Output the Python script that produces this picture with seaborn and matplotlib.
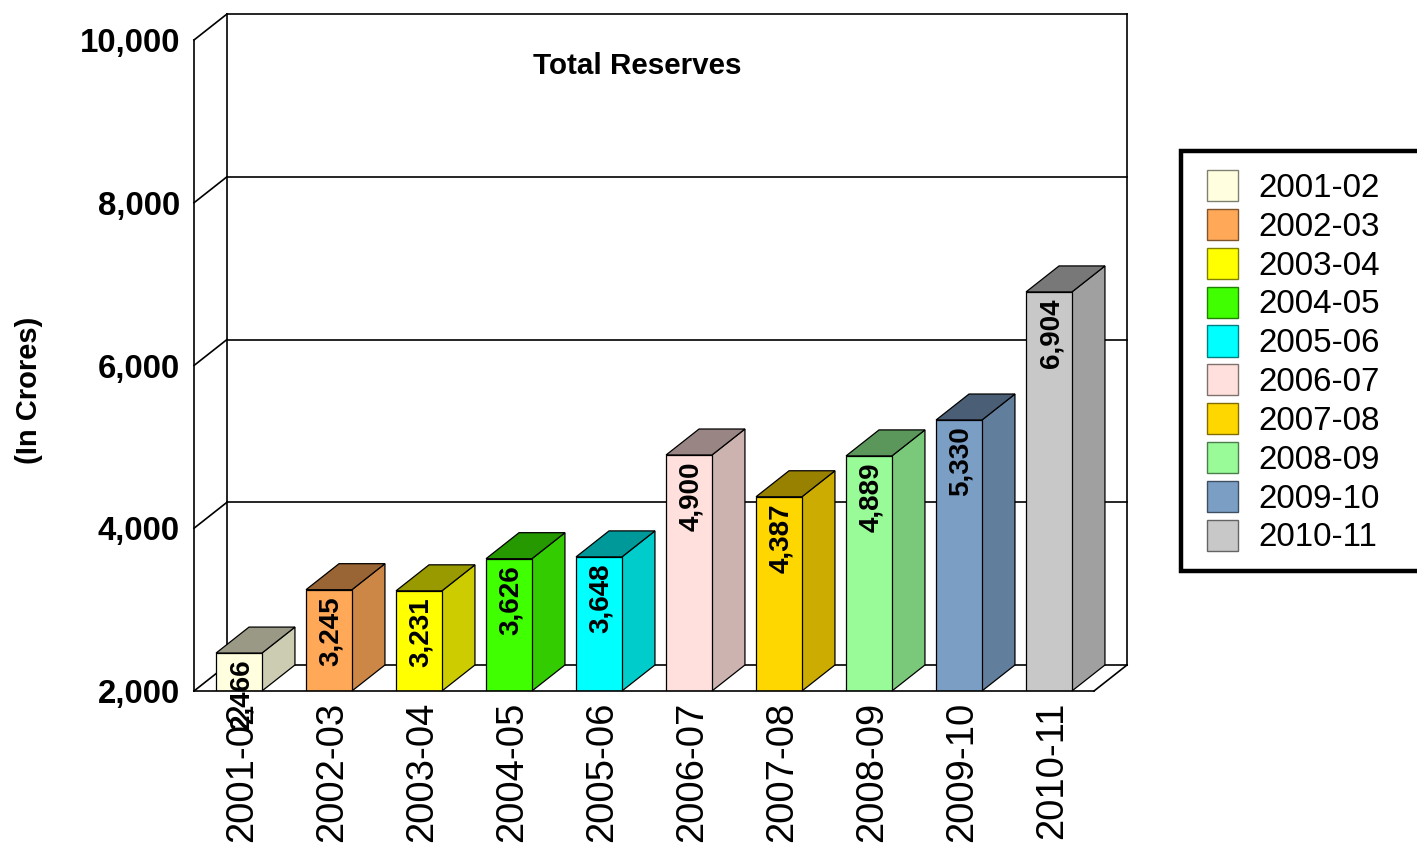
import matplotlib
matplotlib.use('Agg')
import matplotlib.pyplot as plt
from matplotlib.colors import to_rgb
from matplotlib.patches import Patch, Polygon, Rectangle
from matplotlib.transforms import ScaledTranslation
import pandas as pd
import seaborn as sns

years = ['2001-02', '2002-03', '2003-04', '2004-05', '2005-06',
         '2006-07', '2007-08', '2008-09', '2009-10', '2010-11']
reserves = [2466, 3245, 3231, 3626, 3648, 4900, 4387, 4889, 5330, 6904]
colors = ['#FFFFE0', '#FFA858', '#FFFF00', '#3FFF00', '#00FFFF',
          '#FFE0DC', '#FFD700', '#98FB98', '#7B9EC4', '#C8C8C8']
y_ticks = [2000, 4000, 6000, 8000, 10000]

W, H = 1417, 843
sns.set_theme(style='white')
plt.rcParams['font.family'] = ['Liberation Sans', 'DejaVu Sans']

fig = plt.figure(figsize=(W / 100, H / 100), dpi=100)
# front plane of the fake 3d box, in pixels
left, right, bottom, top = 194, 1094, 691, 40
ax = fig.add_axes([left / W, 1 - bottom / H, (right - left) / W, (bottom - top) / H])

df = pd.DataFrame({'year': years, 'reserves': reserves})
sns.barplot(data=df, x='year', y='reserves', hue='year', palette=colors, legend=False,
            width=0.51, edgecolor='black', linewidth=0.9, saturation=1, ax=ax, zorder=4)
ax.set_xlim(-0.5, 9.5)
ax.set_ylim(y_ticks[0], y_ticks[-1])

# depth of the box, px converted to data units
depth_x = 33 / ((right - left) / 10)
depth_y = 26 / ((bottom - top) / (y_ticks[-1] - y_ticks[0]))


def shade(c, k):
    return tuple(v * k for v in to_rgb(c))


# walls
x0, x1 = ax.get_xlim()
wall = dict(color='black', lw=1.2, clip_on=False, zorder=1, solid_capstyle='projecting')
for t in y_ticks:
    ax.plot([x0, x0 + depth_x], [t, t + depth_y], **wall)
    ax.plot([x0 + depth_x, x1 + depth_x], [t + depth_y, t + depth_y], **wall)
ax.plot([x0, x0], [y_ticks[0], y_ticks[-1]], **wall)
ax.plot([x0 + depth_x] * 2, [y_ticks[0] + depth_y, y_ticks[-1] + depth_y], **wall)
ax.plot([x1 + depth_x] * 2, [y_ticks[0] + depth_y, y_ticks[-1] + depth_y], **wall)
ax.plot([x1, x1 + depth_x], [y_ticks[0], y_ticks[0] + depth_y], **wall)

# side and top faces from the bars seaborn drew
for bar, c, val in zip(ax.patches, colors, reserves):
    a = bar.get_x()
    b = a + bar.get_width()
    base = y_ticks[0]
    side = [(b, base), (b + depth_x, base + depth_y), (b + depth_x, val + depth_y), (b, val)]
    roof = [(a, val), (a + depth_x, val + depth_y), (b + depth_x, val + depth_y), (b, val)]
    ax.add_patch(Polygon(side, facecolor=shade(c, 0.8), edgecolor='black', lw=0.9,
                         clip_on=False, zorder=3))
    ax.add_patch(Polygon(roof, facecolor=shade(c, 0.6), edgecolor='black', lw=0.9,
                         clip_on=False, zorder=3))
    ax.annotate(f'{val:,}', (a + bar.get_width() / 2, val), xytext=(1.5, -4.5),
                textcoords='offset points', rotation=90, ha='center', va='top',
                fontsize=20, fontweight='bold', color='black', zorder=6,
                annotation_clip=False)

sns.despine(ax=ax, left=True, right=True, top=True, bottom=False)
ax.spines['bottom'].set_linewidth(1.2)
ax.spines['bottom'].set_color('black')
ax.spines['bottom'].set_zorder(5)
ax.set_yticks(y_ticks)
ax.set_yticklabels([f'{t:,}' for t in y_ticks], fontsize=23.8, fontweight='bold', color='black')
ax.tick_params(axis='y', length=0, pad=10)
ax.tick_params(axis='x', length=0, pad=8)
ax.set_xticks(range(len(years)))
ax.set_xticklabels(years, rotation=90, fontsize=27.5, color='black')
# rotated labels sit a little left because of the descent box
for lab in ax.get_xticklabels():
    lab.set_transform(lab.get_transform() + ScaledTranslation(3 / 100, 0, fig.dpi_scale_trans))
ax.set_xlabel('')
ax.set_ylabel('(In Crores)', fontsize=21, fontweight='bold', color='black', va='center')
ax.yaxis.set_label_coords((29 - left) / (right - left), (bottom - 390) / (bottom - top))
ax.patch.set_alpha(0)

fig.text(637 / W, 1 - 66 / H, 'Total Reserves', fontsize=21.3, fontweight='bold',
         ha='center', va='center', color='black')

# legend box runs off the right edge like the original
fig.add_artist(Rectangle((1181 / W, 1 - 571 / H), 260 / W, 420 / H, transform=fig.transFigure,
                         facecolor='white', edgecolor='black', lw=3.2, clip_on=True))
handles = [Patch(facecolor=c, edgecolor=shade(c, 0.5), lw=1.0, label=y)
           for y, c in zip(years, colors)]
fig.legend(handles=handles, loc='upper left', bbox_to_anchor=(1207 / W, 1 - 170 / H),
           frameon=False, fontsize=23.9, borderpad=0, borderaxespad=0,
           handlelength=0.94, handleheight=1.07, handletextpad=0.62, labelspacing=0.148,
           labelcolor='black')

fig.savefig('out.png', dpi=100, facecolor='white')
